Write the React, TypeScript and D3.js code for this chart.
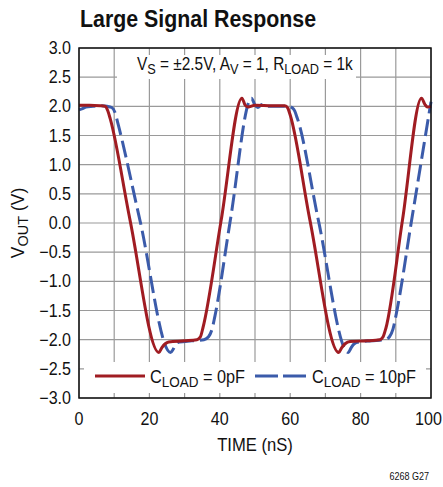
import React from "react";
import * as d3 from "d3";

const xTicks = [0, 20, 40, 60, 80, 100];
const xGrid = [0, 10, 20, 30, 40, 50, 60, 70, 80, 90, 100];
const yTicks = [3.0, 2.5, 2.0, 1.5, 1.0, 0.5, 0.0, -0.5, -1.0, -1.5, -2.0, -2.5, -3.0];

const redTime = [0, 3, 6, 7.4, 8.2, 8.9, 14.5, 22.7, 23.5, 24.5, 25.5, 30, 33.5, 34.5, 35.2, 40.4, 46.3, 47.2, 48, 50, 55, 58.5, 59.3, 60, 65.6, 73.8, 74.6, 75.6, 77, 82, 85.5, 86.4, 87.2, 91.9, 97.3, 98.3, 99, 100];
const redV = [2.02, 2.02, 2.01, 2.0, 1.92, 1.78, 0.05, -2.22, -2.14, -2.07, -2.04, -2.02, -2.0, -1.95, -1.8, 0.05, 2.14, 2.02, 1.99, 2.02, 2.01, 2.01, 1.97, 1.85, 0.05, -2.22, -2.14, -2.07, -2.03, -2.02, -2.0, -1.95, -1.8, 0.05, 2.14, 2.03, 1.99, 2.0];

const blueTime = [0, 1, 2, 4, 6, 8, 9.3, 10.2, 11, 17.3, 26, 26.8, 27.5, 28.5, 32, 35.5, 36.8, 37.8, 38.6, 43, 49, 50, 50.8, 52, 53.5, 56, 59.5, 61, 62, 68, 76.5, 77.3, 78.2, 79.5, 83, 87, 88.2, 89.2, 90, 94.5, 100];
const blueV = [1.94, 1.96, 1.99, 2.0, 2.01, 2.0, 1.98, 1.9, 1.72, 0.05, -2.22, -2.16, -2.08, -2.04, -2.02, -2.0, -1.95, -1.82, -1.6, 0.05, 2.14, 2.02, 1.98, 2.03, 2.0, 2.0, 2.0, 1.95, 1.8, 0.05, -2.22, -2.14, -2.07, -2.04, -2.02, -2.0, -1.95, -1.82, -1.6, 0.05, 2.08];

const W = 443;
const H = 487;
const L = 79, R = 431, T = 48, B = 398;
const RED = "#A01C22";
const BLUE = "#3B5BAA";
const FONT = "'Liberation Sans', Arial, sans-serif";

const fmtY = (v: number) => (v < 0 ? "\u2212" + Math.abs(v).toFixed(1) : v.toFixed(1));

function SText(props: { x: number; y: number; s: number; children: React.ReactNode; anchor?: string; size?: number; weight?: string }) {
  const { x, y, s, children, anchor, size, weight } = props;
  return (
    <g transform={`translate(${x},${y}) scale(${s},1)`}>
      <text x={0} y={0} fontSize={size ?? 17} fontWeight={weight} textAnchor={anchor ?? "start"} fill="#111">
        {children}
      </text>
    </g>
  );
}

export default function App() {
  const x = d3.scaleLinear().domain([0, 100]).range([L, R]);
  const y = d3.scaleLinear().domain([-3, 3]).range([B, T]);
  const line = d3
    .line<[number, number]>()
    .x((d) => x(d[0]))
    .y((d) => y(d[1]))
    .curve(d3.curveMonotoneX);
  const redPts = redTime.map((t, i) => [t, redV[i]] as [number, number]);
  const bluePts = blueTime.map((t, i) => [t, blueV[i]] as [number, number]);

  return (
    <svg
      width={W}
      height={H}
      style={{ position: "absolute", left: 0, top: 0, background: "#fff" }}
      fontFamily={FONT}
    >
      <rect x={0} y={0} width={W} height={H} fill="#fff" />
      <SText x={80} y={27} s={0.89} size={24} weight="bold">
        Large Signal Response
      </SText>
      {/* grid */}
      {xGrid.map((t) => (
        <line key={"gx" + t} x1={x(t)} x2={x(t)} y1={T} y2={B} stroke="#9a9a9a" strokeWidth={1.2} />
      ))}
      {yTicks.map((v) => (
        <line key={"gy" + v} x1={L} x2={R} y1={y(v)} y2={y(v)} stroke="#9a9a9a" strokeWidth={1.2} />
      ))}
      {/* annotation box */}
      <rect x={117} y={55} width={239} height={24} fill="#fff" />
      <SText x={137} y={70} s={0.88} size={17.5}>
        V<tspan fontSize={14.5} dy={4}>S</tspan>
        <tspan dy={-4}> = ±2.5V, A</tspan>
        <tspan fontSize={14.5} dy={4}>V</tspan>
        <tspan dy={-4}> = 1, R</tspan>
        <tspan fontSize={14.5} dy={4}>LOAD</tspan>
        <tspan dy={-4}> = 1k</tspan>
      </SText>
      {/* legend box */}
      <rect x={L + 5} y={362} width={R - L - 10} height={B - 5 - 362} fill="#fff" />
      <line x1={95} x2={145} y1={376} y2={376} stroke={RED} strokeWidth={3} />
      <SText x={150} y={383} s={0.93} size={17.5}>
        C<tspan fontSize={14.5} dy={4}>LOAD</tspan>
        <tspan dy={-4}> = 0pF</tspan>
      </SText>
      <line x1={255} x2={306} y1={376} y2={376} stroke={BLUE} strokeWidth={3} strokeDasharray="23,5" />
      <SText x={312} y={383} s={0.93} size={17.5}>
        C<tspan fontSize={14.5} dy={4}>LOAD</tspan>
        <tspan dy={-4}> = 10pF</tspan>
      </SText>
      {/* curves */}
      <path d={line(bluePts) || ""} fill="none" stroke={BLUE} strokeWidth={3} strokeDasharray="17,6" />
      <path d={line(redPts) || ""} fill="none" stroke={RED} strokeWidth={3} strokeLinejoin="round" />
      {/* frame */}
      <rect x={L} y={T} width={R - L} height={B - T} fill="none" stroke="#111" strokeWidth={1.5} />
      {/* y tick labels */}
      {yTicks.map((v) => (
        <SText key={"yl" + v} x={71} y={y(v) + 6} s={0.92} size={17.5} anchor="end">
          {fmtY(v)}
        </SText>
      ))}
      {/* x tick labels */}
      {xTicks.map((t) => (
        <SText key={"xl" + t} x={t === 100 ? 428.5 : x(t)} y={425} s={0.92} size={17.5} anchor="middle">
          {t}
        </SText>
      ))}
      <SText x={255} y={451} s={0.95} size={17.5} anchor="middle">
        TIME (nS)
      </SText>
      <g transform="translate(24,223) rotate(-90)">
        <text x={0} y={0} fontSize={17.5} textAnchor="middle" fill="#111">
          V<tspan fontSize={14.5} dy={4}>OUT</tspan>
          <tspan dy={-4}> (V)</tspan>
        </text>
      </g>
      <SText x={429} y={480} s={0.9} size={10} anchor="end">
        6268 G27
      </SText>
    </svg>
  );
}
